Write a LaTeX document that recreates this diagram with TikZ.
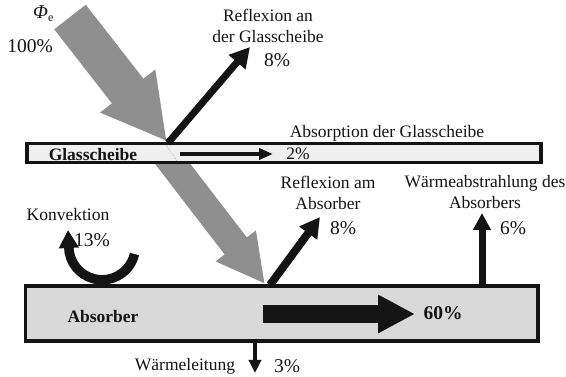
\documentclass[tikz,border=0pt]{standalone}
\usepackage{fontspec}
\setmainfont{Liberation Serif}[Ligatures=TeX]
\newfontfamily\tms{Liberation Serif}
\usetikzlibrary{arrows.meta}
\definecolor{beamgray}{HTML}{8F8F8F}
\definecolor{glassfill}{HTML}{EFEFEF}
\definecolor{absfill}{HTML}{D9D9D9}
\definecolor{ink}{HTML}{141414}
\begin{document}
\begin{tikzpicture}[x=1pt,y=-1pt,
  lbl/.style={font=\tms\fontsize{17.5}{21}\selectfont, inner sep=0pt, align=center, text=ink},
  pct/.style={font=\tms\fontsize{19.5}{22}\selectfont, inner sep=0pt, text=ink},
  boldlbl/.style={font=\tms\fontsize{17.5}{21}\selectfont\bfseries, inner sep=0pt, text=ink},
  beam/.style={draw=beamgray, line cap=butt},
  blackarrow/.style={draw=ink, line cap=butt},
  boxline/.style={draw=ink, line width=3.6pt}
]
\useasboundingbox (0,0) rectangle (566,377);

% coordinates
\coordinate (g1s) at (70,17);
\coordinate (g1e) at (167,141.5);
\coordinate (g2s) at (162,150);
\coordinate (g2e) at (265,284);
\coordinate (r1s) at (168,143);
\coordinate (r1e) at (250,47);
\coordinate (r2s) at (270,285);
\coordinate (r2e) at (320,217);
\coordinate (w1s) at (482,286);
\coordinate (w1e) at (482,213);
\coordinate (l1s) at (255,341);
\coordinate (l1e) at (255,373);
\coordinate (a1s) at (263,314);
\coordinate (a1e) at (415,314);
\coordinate (ga1s) at (180,154);
\coordinate (ga1e) at (273,154);
\coordinate (k1s) at (134.5,254);
\coordinate (k1e) at (68,230);

% refracted beam (under the glass)
\draw[beam, line width=28pt, -{Triangle[length=48pt,width=47pt]}] (g2s) -- (g2e);

% incoming beam
\draw[beam, line width=40pt, -{Triangle[length=64pt,width=65pt]}] (g1s) -- (g1e);

% glass pane
\path[boxline, fill=glassfill] (27,143.5) rectangle (541,162.5);
\draw[beamgray!70, line width=0.5pt, dash pattern=on 1pt off 1pt] (166,145) -- (177,161);

% absorber
\path[boxline, fill=absfill] (25.5,286) rectangle (538,341);

% reflection at glass
\draw[blackarrow, line width=7pt, -{Triangle[length=20pt,width=21pt]}] (r1s) -- (r1e);
% absorption in glass
\draw[blackarrow, line width=4pt, -{Triangle[length=14pt,width=11pt]}] (ga1s) -- (ga1e);
% reflection at absorber
\draw[blackarrow, line width=8pt, -{Triangle[length=20pt,width=21pt]}] (r2s) -- (r2e);
% heat radiation
\draw[blackarrow, line width=7pt, -{Triangle[length=17pt,width=17pt]}] (w1s) -- (w1e);
% heat conduction
\draw[blackarrow, line width=3.5pt, -{Triangle[length=13pt,width=12pt]}] (l1s) -- (l1e);
% useful heat
\draw[blackarrow, line width=18pt, -{Triangle[length=37pt,width=36pt]}] (a1s) -- (a1e);
% convection
\draw[blackarrow, line width=9.5pt, -{Triangle[length=18pt,width=19pt]}]
  (k1s) arc[start angle=13, end angle=180, radius=33.3] -- (k1e);

% texts
\node[anchor=base west, inner sep=0pt, text=ink, font=\tms\fontsize{19.5}{22}\selectfont] (phi) at (33,19)
  {\itshape Φ\upshape\raisebox{-0.3ex}{\fontsize{12}{13}\selectfont e}};
\node[pct] (p100) at (30,46) {100\%};
\node[lbl] (reflg) at (268,25.5) {Reflexion an\\der Glasscheibe};
\node[pct] (p8a) at (277,60) {8\%};
\node[lbl] (absg) at (387,133) {Absorption der Glasscheibe};
\node[lbl] (p2) at (298,154) {2\%};
\node[boldlbl] (glass) at (93,155) {Glasscheibe};
\node[lbl] (refla) at (328,192.5) {Reflexion am\\Absorber};
\node[pct] (p8b) at (343,228) {8\%};
\node[lbl] (waerm) at (485,192.5) {Wärmeabstrahlung des\\Absorbers};
\node[pct] (p6) at (513,228) {6\%};
\node[lbl] (konv) at (68,215) {Konvektion};
\node[pct] (p13) at (92,240) {13\%};
\node[boldlbl] (absb) at (103,317) {Absorber};
\node[pct, font=\tms\fontsize{19.5}{22}\selectfont\bfseries] (p60) at (443,313) {60\%};
\node[lbl] (leit) at (185,366) {Wärmeleitung};
\node[pct] (p3) at (287,366) {3\%};
\end{tikzpicture}
\end{document}
